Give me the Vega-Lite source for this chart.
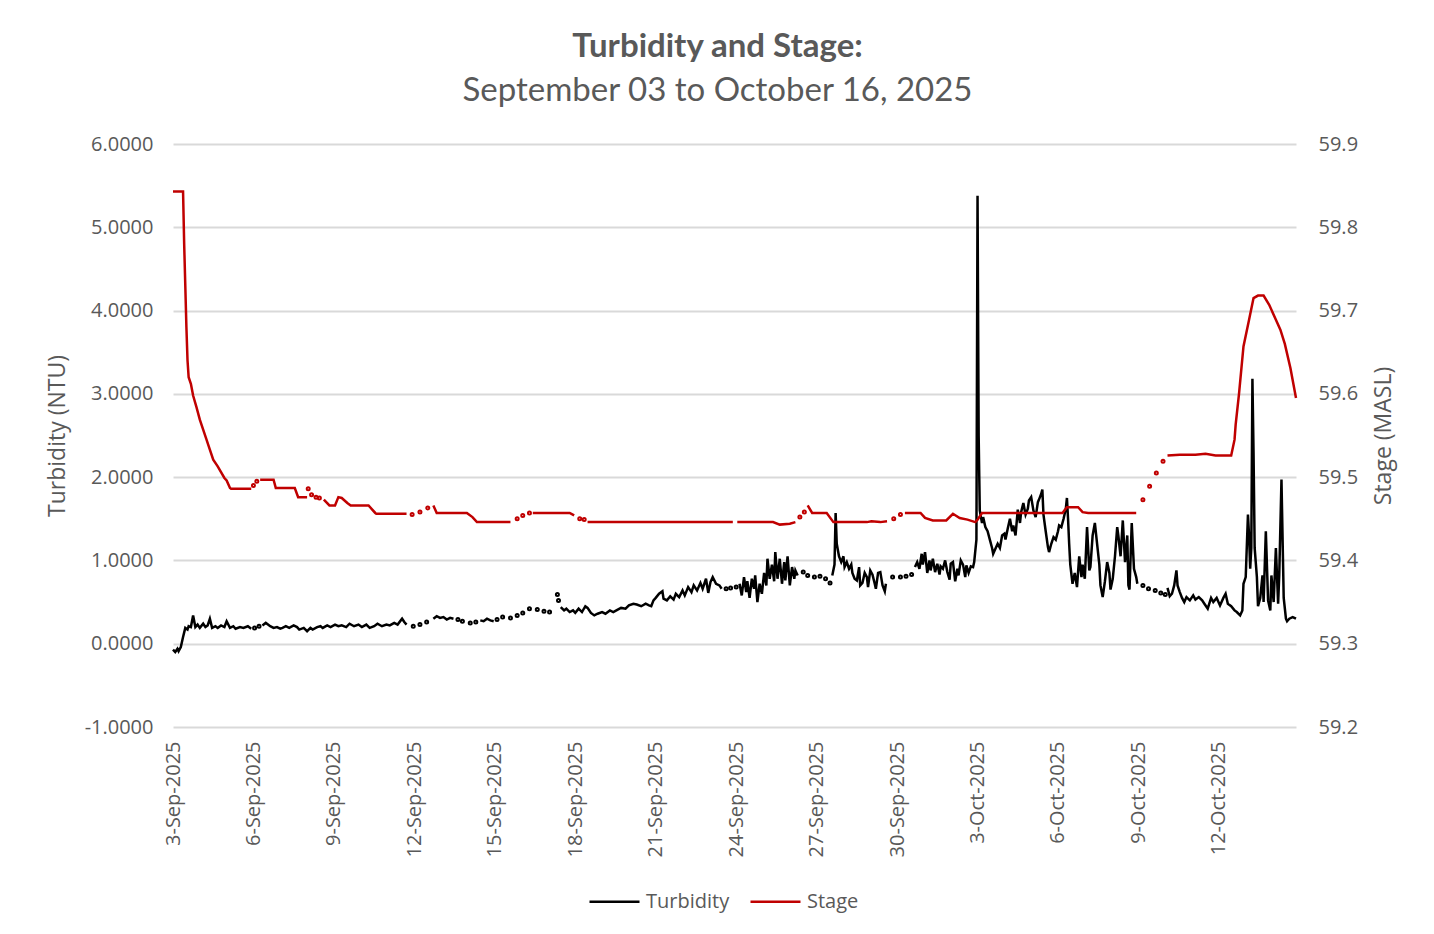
{
"$schema":"https://vega.github.io/schema/vega-lite/v6.json",
"width":1123,"height":583,
"autosize":{"type":"none"},
"padding":{"left":173,"top":144,"right":138,"bottom":207},
"background":"white",
"config":{"view":{"stroke":null},"font":"Open Sans"},
"title":{"text":"Turbidity and Stage:","subtitle":"September 03 to October 16, 2025","anchor":"middle","dx":-17,"offset":26,"font":"Lato","fontSize":33,"fontWeight":"bold","color":"#595959","subtitleFont":"Lato","subtitleFontSize":33,"subtitleFontWeight":"normal","subtitleColor":"#595959","subtitlePadding":11},
"datasets":{
"turb":[
{"t":"2025-09-03T00:00","v":-0.07,"g":1},{"t":"2025-09-03T02:00","v":-0.10,"g":1},{"t":"2025-09-03T04:00","v":-0.06,"g":1},{"t":"2025-09-03T05:00","v":-0.09,"g":1},{"t":"2025-09-03T07:00","v":-0.04,"g":1},{"t":"2025-09-03T09:00","v":0.08,"g":1},{"t":"2025-09-03T11:00","v":0.19,"g":1},{"t":"2025-09-03T13:00","v":0.17,"g":1},{"t":"2025-09-03T14:00","v":0.21,"g":1},{"t":"2025-09-03T16:00","v":0.20,"g":1},{"t":"2025-09-03T18:00","v":0.34,"g":1},{"t":"2025-09-03T20:00","v":0.20,"g":1},{"t":"2025-09-03T22:00","v":0.23,"g":1},
{"t":"2025-09-04T00:00","v":0.19,"g":1},{"t":"2025-09-04T03:00","v":0.24,"g":1},{"t":"2025-09-04T05:00","v":0.20,"g":1},{"t":"2025-09-04T07:00","v":0.22,"g":1},{"t":"2025-09-04T09:00","v":0.30,"g":1},{"t":"2025-09-04T11:00","v":0.19,"g":1},{"t":"2025-09-04T14:00","v":0.21,"g":1},{"t":"2025-09-04T16:00","v":0.19,"g":1},{"t":"2025-09-04T19:00","v":0.22,"g":1},{"t":"2025-09-04T22:00","v":0.20,"g":1},
{"t":"2025-09-05T00:00","v":0.27,"g":1},{"t":"2025-09-05T03:00","v":0.19,"g":1},{"t":"2025-09-05T06:00","v":0.21,"g":1},{"t":"2025-09-05T08:00","v":0.18,"g":1},{"t":"2025-09-05T12:00","v":0.20,"g":1},{"t":"2025-09-05T15:00","v":0.19,"g":1},{"t":"2025-09-05T19:00","v":0.21,"g":1},{"t":"2025-09-05T22:00","v":0.18,"g":1},
{"t":"2025-09-06T01:00","v":0.19,"g":0},{"t":"2025-09-06T05:00","v":0.21,"g":0},
{"t":"2025-09-06T08:00","v":0.22,"g":2},{"t":"2025-09-06T11:00","v":0.25,"g":2},{"t":"2025-09-06T13:00","v":0.23,"g":2},{"t":"2025-09-06T15:00","v":0.21,"g":2},{"t":"2025-09-06T18:00","v":0.19,"g":2},{"t":"2025-09-06T21:00","v":0.20,"g":2},
{"t":"2025-09-07T00:00","v":0.18,"g":2},{"t":"2025-09-07T02:00","v":0.19,"g":2},{"t":"2025-09-07T05:00","v":0.21,"g":2},{"t":"2025-09-07T08:00","v":0.19,"g":2},{"t":"2025-09-07T12:00","v":0.22,"g":2},{"t":"2025-09-07T15:00","v":0.20,"g":2},{"t":"2025-09-07T17:00","v":0.17,"g":2},{"t":"2025-09-07T21:00","v":0.19,"g":2},
{"t":"2025-09-08T00:00","v":0.15,"g":2},{"t":"2025-09-08T03:00","v":0.19,"g":2},{"t":"2025-09-08T05:00","v":0.17,"g":2},{"t":"2025-09-08T09:00","v":0.20,"g":2},{"t":"2025-09-08T12:00","v":0.21,"g":2},{"t":"2025-09-08T14:00","v":0.19,"g":2},{"t":"2025-09-08T18:00","v":0.22,"g":2},{"t":"2025-09-08T21:00","v":0.20,"g":2},
{"t":"2025-09-09T01:00","v":0.23,"g":2},{"t":"2025-09-09T04:00","v":0.21,"g":2},{"t":"2025-09-09T07:00","v":0.22,"g":2},{"t":"2025-09-09T11:00","v":0.20,"g":2},{"t":"2025-09-09T14:00","v":0.24,"g":2},{"t":"2025-09-09T18:00","v":0.21,"g":2},{"t":"2025-09-09T22:00","v":0.23,"g":2},
{"t":"2025-09-10T01:00","v":0.20,"g":2},{"t":"2025-09-10T05:00","v":0.23,"g":2},{"t":"2025-09-10T08:00","v":0.19,"g":2},{"t":"2025-09-10T12:00","v":0.21,"g":2},{"t":"2025-09-10T15:00","v":0.24,"g":2},{"t":"2025-09-10T19:00","v":0.21,"g":2},{"t":"2025-09-10T23:00","v":0.23,"g":2},
{"t":"2025-09-11T02:00","v":0.22,"g":2},{"t":"2025-09-11T06:00","v":0.25,"g":2},{"t":"2025-09-11T09:00","v":0.23,"g":2},{"t":"2025-09-11T13:00","v":0.30,"g":2},{"t":"2025-09-11T15:00","v":0.26,"g":2},{"t":"2025-09-11T17:00","v":0.23,"g":2},
{"t":"2025-09-11T23:00","v":0.21,"g":0},{"t":"2025-09-12T05:00","v":0.23,"g":0},{"t":"2025-09-12T11:00","v":0.26,"g":0},
{"t":"2025-09-12T17:00","v":0.30,"g":3},{"t":"2025-09-12T20:00","v":0.33,"g":3},{"t":"2025-09-12T23:00","v":0.31,"g":3},{"t":"2025-09-13T02:00","v":0.32,"g":3},{"t":"2025-09-13T05:00","v":0.29,"g":3},{"t":"2025-09-13T08:00","v":0.31,"g":3},{"t":"2025-09-13T11:00","v":0.30,"g":3},
{"t":"2025-09-13T15:00","v":0.29,"g":0},{"t":"2025-09-13T19:00","v":0.27,"g":0},{"t":"2025-09-14T02:00","v":0.25,"g":0},{"t":"2025-09-14T07:00","v":0.26,"g":0},
{"t":"2025-09-14T11:00","v":0.28,"g":4},{"t":"2025-09-14T14:00","v":0.27,"g":4},{"t":"2025-09-14T17:00","v":0.30,"g":4},{"t":"2025-09-14T20:00","v":0.28,"g":4},{"t":"2025-09-14T23:00","v":0.27,"g":4},
{"t":"2025-09-15T02:00","v":0.29,"g":0},{"t":"2025-09-15T07:00","v":0.32,"g":0},{"t":"2025-09-15T14:00","v":0.31,"g":0},{"t":"2025-09-15T20:00","v":0.34,"g":0},{"t":"2025-09-16T01:00","v":0.37,"g":0},{"t":"2025-09-16T07:00","v":0.42,"g":0},{"t":"2025-09-16T14:00","v":0.41,"g":0},{"t":"2025-09-16T20:00","v":0.39,"g":0},{"t":"2025-09-17T01:00","v":0.38,"g":0},{"t":"2025-09-17T08:00","v":0.59,"g":0},{"t":"2025-09-17T09:00","v":0.52,"g":0},
{"t":"2025-09-17T11:00","v":0.44,"g":5},{"t":"2025-09-17T14:00","v":0.40,"g":5},{"t":"2025-09-17T16:00","v":0.42,"g":5},{"t":"2025-09-17T19:00","v":0.38,"g":5},{"t":"2025-09-17T22:00","v":0.40,"g":5},
{"t":"2025-09-18T00:00","v":0.37,"g":5},{"t":"2025-09-18T03:00","v":0.42,"g":5},{"t":"2025-09-18T06:00","v":0.38,"g":5},{"t":"2025-09-18T09:00","v":0.45,"g":5},{"t":"2025-09-18T11:00","v":0.43,"g":5},{"t":"2025-09-18T14:00","v":0.37,"g":5},{"t":"2025-09-18T17:00","v":0.34,"g":5},{"t":"2025-09-18T20:00","v":0.36,"g":5},
{"t":"2025-09-19T00:00","v":0.38,"g":5},{"t":"2025-09-19T03:00","v":0.36,"g":5},{"t":"2025-09-19T07:00","v":0.40,"g":5},{"t":"2025-09-19T10:00","v":0.38,"g":5},{"t":"2025-09-19T14:00","v":0.41,"g":5},{"t":"2025-09-19T17:00","v":0.43,"g":5},{"t":"2025-09-19T21:00","v":0.42,"g":5},
{"t":"2025-09-20T00:00","v":0.46,"g":5},{"t":"2025-09-20T04:00","v":0.48,"g":5},{"t":"2025-09-20T07:00","v":0.47,"g":5},{"t":"2025-09-20T11:00","v":0.45,"g":5},{"t":"2025-09-20T15:00","v":0.48,"g":5},{"t":"2025-09-20T18:00","v":0.46,"g":5},{"t":"2025-09-20T20:00","v":0.45,"g":5},{"t":"2025-09-20T22:00","v":0.52,"g":5},
{"t":"2025-09-21T00:00","v":0.55,"g":5},{"t":"2025-09-21T03:00","v":0.60,"g":5},{"t":"2025-09-21T06:00","v":0.63,"g":5},{"t":"2025-09-21T07:00","v":0.54,"g":5},{"t":"2025-09-21T10:00","v":0.52,"g":5},{"t":"2025-09-21T13:00","v":0.57,"g":5},{"t":"2025-09-21T16:00","v":0.53,"g":5},{"t":"2025-09-21T18:00","v":0.60,"g":5},{"t":"2025-09-21T21:00","v":0.56,"g":5},
{"t":"2025-09-22T00:00","v":0.64,"g":5},{"t":"2025-09-22T02:00","v":0.58,"g":5},{"t":"2025-09-22T05:00","v":0.68,"g":5},{"t":"2025-09-22T08:00","v":0.62,"g":5},{"t":"2025-09-22T10:00","v":0.70,"g":5},{"t":"2025-09-22T13:00","v":0.64,"g":5},{"t":"2025-09-22T16:00","v":0.73,"g":5},{"t":"2025-09-22T18:00","v":0.66,"g":5},{"t":"2025-09-22T21:00","v":0.78,"g":5},{"t":"2025-09-22T23:00","v":0.61,"g":5},
{"t":"2025-09-23T01:00","v":0.74,"g":5},{"t":"2025-09-23T03:00","v":0.80,"g":5},{"t":"2025-09-23T06:00","v":0.72,"g":5},{"t":"2025-09-23T09:00","v":0.70,"g":5},{"t":"2025-09-23T11:00","v":0.66,"g":5},
{"t":"2025-09-23T15:00","v":0.66,"g":0},{"t":"2025-09-23T19:00","v":0.67,"g":0},{"t":"2025-09-24T00:00","v":0.68,"g":0},
{"t":"2025-09-24T03:00","v":0.72,"g":6},{"t":"2025-09-24T05:00","v":0.58,"g":6},{"t":"2025-09-24T07:00","v":0.80,"g":6},{"t":"2025-09-24T09:00","v":0.62,"g":6},{"t":"2025-09-24T10:00","v":0.75,"g":6},{"t":"2025-09-24T12:00","v":0.55,"g":6},{"t":"2025-09-24T14:00","v":0.78,"g":6},{"t":"2025-09-24T16:00","v":0.66,"g":6},{"t":"2025-09-24T17:00","v":0.82,"g":6},{"t":"2025-09-24T19:00","v":0.50,"g":6},{"t":"2025-09-24T21:00","v":0.72,"g":6},{"t":"2025-09-24T23:00","v":0.60,"g":6},
{"t":"2025-09-25T01:00","v":0.85,"g":6},{"t":"2025-09-25T03:00","v":0.70,"g":6},{"t":"2025-09-25T04:00","v":1.02,"g":6},{"t":"2025-09-25T06:00","v":0.78,"g":6},{"t":"2025-09-25T08:00","v":0.95,"g":6},{"t":"2025-09-25T10:00","v":0.75,"g":6},{"t":"2025-09-25T11:00","v":1.10,"g":6},{"t":"2025-09-25T13:00","v":0.78,"g":6},{"t":"2025-09-25T15:00","v":1.02,"g":6},{"t":"2025-09-25T17:00","v":0.72,"g":6},{"t":"2025-09-25T19:00","v":0.98,"g":6},{"t":"2025-09-25T20:00","v":0.76,"g":6},{"t":"2025-09-25T22:00","v":1.05,"g":6},
{"t":"2025-09-26T00:00","v":0.70,"g":6},{"t":"2025-09-26T02:00","v":0.92,"g":6},{"t":"2025-09-26T04:00","v":0.78,"g":6},{"t":"2025-09-26T05:00","v":0.88,"g":6},{"t":"2025-09-26T07:00","v":0.82,"g":6},
{"t":"2025-09-26T12:00","v":0.86,"g":0},{"t":"2025-09-26T16:00","v":0.82,"g":0},{"t":"2025-09-26T22:00","v":0.80,"g":0},{"t":"2025-09-27T03:00","v":0.81,"g":0},{"t":"2025-09-27T08:00","v":0.78,"g":0},{"t":"2025-09-27T12:00","v":0.73,"g":0},
{"t":"2025-09-27T14:00","v":0.82,"g":7},{"t":"2025-09-27T16:00","v":0.95,"g":7},{"t":"2025-09-27T17:00","v":1.57,"g":7},{"t":"2025-09-27T18:00","v":1.20,"g":7},{"t":"2025-09-27T20:00","v":1.05,"g":7},{"t":"2025-09-27T22:00","v":0.98,"g":7},
{"t":"2025-09-28T00:00","v":1.05,"g":7},{"t":"2025-09-28T01:00","v":0.92,"g":7},{"t":"2025-09-28T03:00","v":0.98,"g":7},{"t":"2025-09-28T05:00","v":0.90,"g":7},{"t":"2025-09-28T07:00","v":0.95,"g":7},{"t":"2025-09-28T08:00","v":0.85,"g":7},{"t":"2025-09-28T10:00","v":0.78,"g":7},{"t":"2025-09-28T12:00","v":0.76,"g":7},{"t":"2025-09-28T14:00","v":0.92,"g":7},{"t":"2025-09-28T15:00","v":0.70,"g":7},{"t":"2025-09-28T17:00","v":0.73,"g":7},{"t":"2025-09-28T19:00","v":0.85,"g":7},{"t":"2025-09-28T21:00","v":0.80,"g":7},{"t":"2025-09-28T22:00","v":0.68,"g":7},
{"t":"2025-09-29T00:00","v":0.88,"g":7},{"t":"2025-09-29T02:00","v":0.83,"g":7},{"t":"2025-09-29T04:00","v":0.72,"g":7},{"t":"2025-09-29T05:00","v":0.66,"g":7},{"t":"2025-09-29T07:00","v":0.85,"g":7},{"t":"2025-09-29T09:00","v":0.86,"g":7},{"t":"2025-09-29T11:00","v":0.70,"g":7},{"t":"2025-09-29T13:00","v":0.63,"g":7},{"t":"2025-09-29T14:00","v":0.72,"g":7},
{"t":"2025-09-29T20:00","v":0.80,"g":0},{"t":"2025-09-30T03:00","v":0.80,"g":0},{"t":"2025-09-30T08:00","v":0.81,"g":0},{"t":"2025-09-30T13:00","v":0.83,"g":0},
{"t":"2025-09-30T16:00","v":0.92,"g":8},{"t":"2025-09-30T18:00","v":0.98,"g":8},{"t":"2025-09-30T20:00","v":0.90,"g":8},{"t":"2025-09-30T22:00","v":1.08,"g":8},{"t":"2025-09-30T23:00","v":0.95,"g":8},
{"t":"2025-10-01T01:00","v":1.10,"g":8},{"t":"2025-10-01T03:00","v":0.85,"g":8},{"t":"2025-10-01T05:00","v":1.00,"g":8},{"t":"2025-10-01T06:00","v":0.88,"g":8},{"t":"2025-10-01T08:00","v":1.02,"g":8},{"t":"2025-10-01T10:00","v":0.86,"g":8},{"t":"2025-10-01T12:00","v":0.96,"g":8},{"t":"2025-10-01T14:00","v":0.83,"g":8},{"t":"2025-10-01T15:00","v":0.93,"g":8},{"t":"2025-10-01T17:00","v":0.90,"g":8},{"t":"2025-10-01T19:00","v":1.00,"g":8},{"t":"2025-10-01T21:00","v":0.86,"g":8},{"t":"2025-10-01T23:00","v":0.77,"g":8},
{"t":"2025-10-02T00:00","v":0.96,"g":8},{"t":"2025-10-02T02:00","v":0.98,"g":8},{"t":"2025-10-02T04:00","v":0.75,"g":8},{"t":"2025-10-02T06:00","v":0.90,"g":8},{"t":"2025-10-02T07:00","v":0.82,"g":8},{"t":"2025-10-02T09:00","v":1.00,"g":8},{"t":"2025-10-02T11:00","v":0.95,"g":8},{"t":"2025-10-02T13:00","v":0.80,"g":8},{"t":"2025-10-02T14:00","v":0.94,"g":8},{"t":"2025-10-02T16:00","v":0.85,"g":8},{"t":"2025-10-02T18:00","v":0.93,"g":8},{"t":"2025-10-02T20:00","v":0.92,"g":8},{"t":"2025-10-02T21:00","v":0.98,"g":8},{"t":"2025-10-02T23:00","v":1.25,"g":8},
{"t":"2025-10-03T00:00","v":5.38,"g":8},{"t":"2025-10-03T01:00","v":2.50,"g":8},{"t":"2025-10-03T02:00","v":1.60,"g":8},{"t":"2025-10-03T04:00","v":1.45,"g":8},{"t":"2025-10-03T05:00","v":1.52,"g":8},{"t":"2025-10-03T07:00","v":1.40,"g":8},{"t":"2025-10-03T09:00","v":1.35,"g":8},{"t":"2025-10-03T11:00","v":1.25,"g":8},{"t":"2025-10-03T13:00","v":1.15,"g":8},{"t":"2025-10-03T14:00","v":1.08,"g":8},{"t":"2025-10-03T16:00","v":1.14,"g":8},{"t":"2025-10-03T18:00","v":1.20,"g":8},{"t":"2025-10-03T20:00","v":1.15,"g":8},{"t":"2025-10-03T22:00","v":1.30,"g":8},
{"t":"2025-10-04T00:00","v":1.32,"g":8},{"t":"2025-10-04T01:00","v":1.25,"g":8},{"t":"2025-10-04T03:00","v":1.38,"g":8},{"t":"2025-10-04T05:00","v":1.50,"g":8},{"t":"2025-10-04T07:00","v":1.35,"g":8},{"t":"2025-10-04T08:00","v":1.42,"g":8},{"t":"2025-10-04T10:00","v":1.30,"g":8},{"t":"2025-10-04T12:00","v":1.61,"g":8},{"t":"2025-10-04T14:00","v":1.45,"g":8},{"t":"2025-10-04T15:00","v":1.58,"g":8},{"t":"2025-10-04T17:00","v":1.69,"g":8},{"t":"2025-10-04T19:00","v":1.55,"g":8},{"t":"2025-10-04T21:00","v":1.62,"g":8},{"t":"2025-10-04T22:00","v":1.72,"g":8},
{"t":"2025-10-05T00:00","v":1.76,"g":8},{"t":"2025-10-05T02:00","v":1.60,"g":8},{"t":"2025-10-05T04:00","v":1.52,"g":8},{"t":"2025-10-05T06:00","v":1.70,"g":8},{"t":"2025-10-05T07:00","v":1.73,"g":8},{"t":"2025-10-05T09:00","v":1.80,"g":8},{"t":"2025-10-05T10:00","v":1.85,"g":8},{"t":"2025-10-05T11:00","v":1.55,"g":8},{"t":"2025-10-05T13:00","v":1.35,"g":8},{"t":"2025-10-05T15:00","v":1.16,"g":8},{"t":"2025-10-05T16:00","v":1.10,"g":8},{"t":"2025-10-05T18:00","v":1.20,"g":8},{"t":"2025-10-05T20:00","v":1.28,"g":8},{"t":"2025-10-05T22:00","v":1.25,"g":8},
{"t":"2025-10-06T00:00","v":1.35,"g":8},{"t":"2025-10-06T01:00","v":1.42,"g":8},{"t":"2025-10-06T03:00","v":1.40,"g":8},{"t":"2025-10-06T05:00","v":1.50,"g":8},{"t":"2025-10-06T07:00","v":1.62,"g":8},{"t":"2025-10-06T08:00","v":1.75,"g":8},{"t":"2025-10-06T09:00","v":1.50,"g":8},{"t":"2025-10-06T10:00","v":1.20,"g":8},{"t":"2025-10-06T11:00","v":0.95,"g":8},{"t":"2025-10-06T13:00","v":0.72,"g":8},{"t":"2025-10-06T15:00","v":0.85,"g":8},{"t":"2025-10-06T17:00","v":0.68,"g":8},{"t":"2025-10-06T19:00","v":1.05,"g":8},{"t":"2025-10-06T21:00","v":0.80,"g":8},{"t":"2025-10-06T22:00","v":0.95,"g":8},
{"t":"2025-10-07T00:00","v":0.78,"g":8},{"t":"2025-10-07T02:00","v":1.40,"g":8},{"t":"2025-10-07T04:00","v":0.88,"g":8},{"t":"2025-10-07T05:00","v":0.92,"g":8},{"t":"2025-10-07T07:00","v":1.30,"g":8},{"t":"2025-10-07T09:00","v":1.45,"g":8},{"t":"2025-10-07T11:00","v":1.20,"g":8},{"t":"2025-10-07T13:00","v":0.95,"g":8},{"t":"2025-10-07T14:00","v":0.70,"g":8},{"t":"2025-10-07T16:00","v":0.56,"g":8},{"t":"2025-10-07T18:00","v":0.75,"g":8},{"t":"2025-10-07T20:00","v":0.98,"g":8},{"t":"2025-10-07T22:00","v":0.85,"g":8},{"t":"2025-10-07T23:00","v":0.65,"g":8},
{"t":"2025-10-08T01:00","v":0.78,"g":8},{"t":"2025-10-08T03:00","v":1.05,"g":8},{"t":"2025-10-08T05:00","v":1.40,"g":8},{"t":"2025-10-08T06:00","v":1.30,"g":8},{"t":"2025-10-08T08:00","v":1.05,"g":8},{"t":"2025-10-08T10:00","v":1.48,"g":8},{"t":"2025-10-08T12:00","v":0.98,"g":8},{"t":"2025-10-08T14:00","v":1.30,"g":8},{"t":"2025-10-08T15:00","v":0.70,"g":8},{"t":"2025-10-08T16:00","v":0.65,"g":8},{"t":"2025-10-08T18:00","v":1.45,"g":8},{"t":"2025-10-08T20:00","v":0.90,"g":8},{"t":"2025-10-08T22:00","v":0.80,"g":8},{"t":"2025-10-08T23:00","v":0.72,"g":8},
{"t":"2025-10-09T04:00","v":0.70,"g":0},{"t":"2025-10-09T09:00","v":0.66,"g":0},{"t":"2025-10-09T15:00","v":0.64,"g":0},{"t":"2025-10-09T20:00","v":0.61,"g":0},{"t":"2025-10-10T00:00","v":0.59,"g":0},
{"t":"2025-10-10T02:00","v":0.67,"g":9},{"t":"2025-10-10T04:00","v":0.57,"g":9},{"t":"2025-10-10T06:00","v":0.60,"g":9},{"t":"2025-10-10T08:00","v":0.70,"g":9},{"t":"2025-10-10T10:00","v":0.88,"g":9},{"t":"2025-10-10T11:00","v":0.70,"g":9},{"t":"2025-10-10T13:00","v":0.62,"g":9},{"t":"2025-10-10T15:00","v":0.55,"g":9},{"t":"2025-10-10T17:00","v":0.50,"g":9},{"t":"2025-10-10T19:00","v":0.56,"g":9},{"t":"2025-10-10T22:00","v":0.52,"g":9},
{"t":"2025-10-11T01:00","v":0.58,"g":9},{"t":"2025-10-11T03:00","v":0.53,"g":9},{"t":"2025-10-11T06:00","v":0.56,"g":9},{"t":"2025-10-11T09:00","v":0.52,"g":9},{"t":"2025-10-11T11:00","v":0.48,"g":9},{"t":"2025-10-11T14:00","v":0.42,"g":9},{"t":"2025-10-11T17:00","v":0.55,"g":9},{"t":"2025-10-11T19:00","v":0.50,"g":9},{"t":"2025-10-11T22:00","v":0.55,"g":9},
{"t":"2025-10-12T01:00","v":0.46,"g":9},{"t":"2025-10-12T04:00","v":0.55,"g":9},{"t":"2025-10-12T06:00","v":0.60,"g":9},{"t":"2025-10-12T08:00","v":0.48,"g":9},{"t":"2025-10-12T11:00","v":0.45,"g":9},{"t":"2025-10-12T14:00","v":0.40,"g":9},{"t":"2025-10-12T16:00","v":0.38,"g":9},{"t":"2025-10-12T19:00","v":0.34,"g":9},{"t":"2025-10-12T21:00","v":0.40,"g":9},{"t":"2025-10-12T22:00","v":0.72,"g":9},
{"t":"2025-10-13T00:00","v":0.80,"g":9},{"t":"2025-10-13T02:00","v":1.55,"g":9},{"t":"2025-10-13T03:00","v":1.30,"g":9},{"t":"2025-10-13T04:00","v":0.90,"g":9},{"t":"2025-10-13T05:00","v":1.15,"g":9},{"t":"2025-10-13T06:00","v":3.18,"g":9},{"t":"2025-10-13T07:00","v":2.30,"g":9},{"t":"2025-10-13T08:00","v":1.15,"g":9},{"t":"2025-10-13T10:00","v":0.80,"g":9},{"t":"2025-10-13T11:00","v":0.45,"g":9},{"t":"2025-10-13T13:00","v":0.55,"g":9},{"t":"2025-10-13T15:00","v":0.82,"g":9},{"t":"2025-10-13T16:00","v":0.50,"g":9},{"t":"2025-10-13T18:00","v":1.35,"g":9},{"t":"2025-10-13T20:00","v":0.52,"g":9},{"t":"2025-10-13T22:00","v":0.40,"g":9},{"t":"2025-10-13T23:00","v":0.82,"g":9},
{"t":"2025-10-14T01:00","v":0.50,"g":9},{"t":"2025-10-14T03:00","v":1.15,"g":9},{"t":"2025-10-14T05:00","v":0.48,"g":9},{"t":"2025-10-14T06:00","v":0.82,"g":9},{"t":"2025-10-14T08:00","v":1.97,"g":9},{"t":"2025-10-14T10:00","v":0.55,"g":9},{"t":"2025-10-14T12:00","v":0.30,"g":9},{"t":"2025-10-14T13:00","v":0.27,"g":9},{"t":"2025-10-14T15:00","v":0.30,"g":9},{"t":"2025-10-14T18:00","v":0.32,"g":9},{"t":"2025-10-14T21:00","v":0.30,"g":9}
],
"stage":[
{"t":"2025-09-03T00:00","v":59.843,"g":1},{"t":"2025-09-03T09:00","v":59.843,"g":1},{"t":"2025-09-03T10:00","v":59.78,"g":1},{"t":"2025-09-03T11:00","v":59.73,"g":1},{"t":"2025-09-03T12:00","v":59.68,"g":1},{"t":"2025-09-03T13:00","v":59.64,"g":1},{"t":"2025-09-03T14:00","v":59.62,"g":1},{"t":"2025-09-03T16:00","v":59.612,"g":1},{"t":"2025-09-03T18:00","v":59.598,"g":1},{"t":"2025-09-03T21:00","v":59.584,"g":1},
{"t":"2025-09-04T00:00","v":59.569,"g":1},{"t":"2025-09-04T06:00","v":59.545,"g":1},{"t":"2025-09-04T08:00","v":59.537,"g":1},{"t":"2025-09-04T12:00","v":59.521,"g":1},{"t":"2025-09-04T16:00","v":59.513,"g":1},{"t":"2025-09-04T22:00","v":59.499,"g":1},
{"t":"2025-09-05T00:00","v":59.496,"g":1},{"t":"2025-09-05T03:00","v":59.487,"g":1},{"t":"2025-09-05T04:00","v":59.486,"g":1},{"t":"2025-09-05T22:00","v":59.486,"g":1},
{"t":"2025-09-06T00:00","v":59.49,"g":0},{"t":"2025-09-06T03:00","v":59.495,"g":0},
{"t":"2025-09-06T06:00","v":59.497,"g":2},{"t":"2025-09-06T18:00","v":59.497,"g":2},{"t":"2025-09-06T20:00","v":59.487,"g":2},{"t":"2025-09-07T13:00","v":59.487,"g":2},{"t":"2025-09-07T16:00","v":59.476,"g":2},{"t":"2025-09-08T00:00","v":59.476,"g":2},
{"t":"2025-09-08T01:00","v":59.486,"g":0},{"t":"2025-09-08T04:00","v":59.479,"g":0},{"t":"2025-09-08T08:00","v":59.476,"g":0},{"t":"2025-09-08T11:00","v":59.475,"g":0},
{"t":"2025-09-08T15:00","v":59.473,"g":3},{"t":"2025-09-08T20:00","v":59.466,"g":3},{"t":"2025-09-09T01:00","v":59.466,"g":3},{"t":"2025-09-09T04:00","v":59.476,"g":3},{"t":"2025-09-09T07:00","v":59.475,"g":3},{"t":"2025-09-09T12:00","v":59.469,"g":3},{"t":"2025-09-09T15:00","v":59.466,"g":3},{"t":"2025-09-10T07:00","v":59.466,"g":3},{"t":"2025-09-10T13:00","v":59.457,"g":3},{"t":"2025-09-10T14:00","v":59.456,"g":3},{"t":"2025-09-11T17:00","v":59.456,"g":3},
{"t":"2025-09-11T22:00","v":59.455,"g":0},{"t":"2025-09-12T05:00","v":59.458,"g":0},{"t":"2025-09-12T12:00","v":59.463,"g":0},
{"t":"2025-09-12T17:00","v":59.466,"g":4},{"t":"2025-09-12T20:00","v":59.457,"g":4},{"t":"2025-09-13T23:00","v":59.457,"g":4},{"t":"2025-09-14T04:00","v":59.452,"g":4},{"t":"2025-09-14T08:00","v":59.446,"g":4},{"t":"2025-09-15T14:00","v":59.446,"g":4},
{"t":"2025-09-15T20:00","v":59.45,"g":0},{"t":"2025-09-16T01:00","v":59.454,"g":0},{"t":"2025-09-16T07:00","v":59.457,"g":0},
{"t":"2025-09-16T10:00","v":59.457,"g":5},{"t":"2025-09-17T19:00","v":59.457,"g":5},{"t":"2025-09-17T23:00","v":59.454,"g":5},
{"t":"2025-09-18T04:00","v":59.45,"g":0},{"t":"2025-09-18T08:00","v":59.449,"g":0},
{"t":"2025-09-18T11:00","v":59.446,"g":6},{"t":"2025-09-23T21:00","v":59.446,"g":6},
{"t":"2025-09-24T01:00","v":59.446,"g":7},{"t":"2025-09-25T09:00","v":59.446,"g":7},{"t":"2025-09-25T15:00","v":59.443,"g":7},{"t":"2025-09-26T00:00","v":59.444,"g":7},{"t":"2025-09-26T05:00","v":59.446,"g":7},
{"t":"2025-09-26T09:00","v":59.452,"g":0},{"t":"2025-09-26T13:00","v":59.458,"g":0},
{"t":"2025-09-26T16:00","v":59.466,"g":8},{"t":"2025-09-26T20:00","v":59.457,"g":8},{"t":"2025-09-27T09:00","v":59.457,"g":8},{"t":"2025-09-27T15:00","v":59.446,"g":8},{"t":"2025-09-28T21:00","v":59.446,"g":8},{"t":"2025-09-29T01:00","v":59.447,"g":8},{"t":"2025-09-29T09:00","v":59.446,"g":8},{"t":"2025-09-29T15:00","v":59.447,"g":8},
{"t":"2025-09-29T21:00","v":59.45,"g":0},{"t":"2025-09-30T03:00","v":59.455,"g":0},
{"t":"2025-09-30T07:00","v":59.457,"g":9},{"t":"2025-09-30T21:00","v":59.457,"g":9},{"t":"2025-10-01T01:00","v":59.451,"g":9},{"t":"2025-10-01T08:00","v":59.448,"g":9},{"t":"2025-10-01T20:00","v":59.448,"g":9},{"t":"2025-10-02T02:00","v":59.456,"g":9},{"t":"2025-10-02T08:00","v":59.451,"g":9},{"t":"2025-10-02T15:00","v":59.449,"g":9},{"t":"2025-10-02T22:00","v":59.446,"g":9},{"t":"2025-10-03T00:00","v":59.449,"g":9},{"t":"2025-10-03T04:00","v":59.457,"g":9},{"t":"2025-10-06T04:00","v":59.457,"g":9},{"t":"2025-10-06T08:00","v":59.464,"g":9},{"t":"2025-10-06T18:00","v":59.464,"g":9},{"t":"2025-10-06T22:00","v":59.458,"g":9},{"t":"2025-10-07T03:00","v":59.457,"g":9},{"t":"2025-10-08T22:00","v":59.457,"g":9},
{"t":"2025-10-09T04:00","v":59.473,"g":0},{"t":"2025-10-09T10:00","v":59.489,"g":0},{"t":"2025-10-09T16:00","v":59.505,"g":0},{"t":"2025-10-09T22:00","v":59.519,"g":0},
{"t":"2025-10-10T02:00","v":59.526,"g":10},{"t":"2025-10-10T13:00","v":59.527,"g":10},{"t":"2025-10-11T03:00","v":59.527,"g":10},{"t":"2025-10-11T12:00","v":59.528,"g":10},{"t":"2025-10-11T21:00","v":59.526,"g":10},{"t":"2025-10-12T11:00","v":59.526,"g":10},{"t":"2025-10-12T14:00","v":59.545,"g":10},{"t":"2025-10-12T15:00","v":59.563,"g":10},{"t":"2025-10-12T18:00","v":59.6,"g":10},{"t":"2025-10-12T22:00","v":59.657,"g":10},{"t":"2025-10-13T03:00","v":59.689,"g":10},{"t":"2025-10-13T07:00","v":59.715,"g":10},{"t":"2025-10-13T11:00","v":59.718,"g":10},{"t":"2025-10-13T16:00","v":59.718,"g":10},{"t":"2025-10-13T21:00","v":59.707,"g":10},{"t":"2025-10-14T03:00","v":59.689,"g":10},{"t":"2025-10-14T07:00","v":59.677,"g":10},{"t":"2025-10-14T11:00","v":59.66,"g":10},{"t":"2025-10-14T16:00","v":59.631,"g":10},{"t":"2025-10-14T21:00","v":59.595,"g":10}
]
},
"encoding":{
"x":{"field":"t","type":"temporal","scale":{"domain":[{"year":2025,"month":9,"date":3},{"year":2025,"month":10,"date":14,"hours":21}]},
"axis":{"title":null,"values":[{"year":2025,"month":9,"date":3},{"year":2025,"month":9,"date":6},{"year":2025,"month":9,"date":9},{"year":2025,"month":9,"date":12},{"year":2025,"month":9,"date":15},{"year":2025,"month":9,"date":18},{"year":2025,"month":9,"date":21},{"year":2025,"month":9,"date":24},{"year":2025,"month":9,"date":27},{"year":2025,"month":9,"date":30},{"year":2025,"month":10,"date":3},{"year":2025,"month":10,"date":6},{"year":2025,"month":10,"date":9},{"year":2025,"month":10,"date":12}],
"format":"%-d-%b-%Y","labelAngle":-90,"labelFont":"Open Sans","labelFontSize":20,"labelColor":"#595959","labelPadding":14,"labelFlush":false,"labelOverlap":false,"labelBound":false,"domain":false,"ticks":false,"grid":false}}
},
"layer":[
{"data":{"name":"turb"},
"encoding":{"y":{"field":"v","type":"quantitative","scale":{"domain":[-1,6],"nice":false,"zero":false},
"axis":{"values":[-1,0,1,2,3,4,5,6],"format":".4f","labelExpr":"replace(datum.label, '\u2212', '-')","title":"Turbidity (NTU)","titleFont":"Open Sans","titleFontSize":23,"titleFontWeight":"normal","titleColor":"#595959","titlePadding":15,"labelFont":"Open Sans","labelFontSize":20,"labelColor":"#595959","labelPadding":20,"domain":false,"ticks":false,"grid":true,"gridColor":"#d9d9d9","gridWidth":2}}},
"layer":[
{"transform":[{"filter":"datum.g > 0"}],"mark":{"type":"line","strokeWidth":2.5},
"encoding":{"detail":{"field":"g","type":"nominal"},"color":{"datum":"Turbidity","type":"nominal","scale":{"domain":["Turbidity","Stage"],"range":["#000000","#C00000"]},
"legend":{"title":null,"orient":"none","legendX":415,"legendY":731,"direction":"horizontal","symbolType":"stroke","symbolSize":2500,"symbolStrokeWidth":2.5,"labelFont":"Open Sans","labelFontSize":20,"labelColor":"#595959","labelOffset":5,"columnPadding":15}}}},
{"transform":[{"filter":"datum.g == 0"}],"mark":{"type":"point","filled":false,"size":4,"strokeWidth":3,"opacity":1},
"encoding":{"color":{"datum":"Turbidity","type":"nominal"}}}
]},
{"data":{"name":"stage"},
"encoding":{"y":{"field":"v","type":"quantitative","scale":{"domain":[59.2,59.9],"nice":false,"zero":false},
"axis":{"orient":"right","values":[59.2,59.3,59.4,59.5,59.6,59.7,59.8,59.9],"format":".1f","title":"Stage (MASL)","titleAngle":-90,"titleBaseline":"top","titleFont":"Open Sans","titleFontSize":23,"titleFontWeight":"normal","titleColor":"#595959","titlePadding":15,"labelFont":"Open Sans","labelFontSize":20,"labelColor":"#595959","labelPadding":22,"domain":false,"ticks":false,"grid":false}}},
"layer":[
{"transform":[{"filter":"datum.g > 0"}],"mark":{"type":"line","strokeWidth":2.5},
"encoding":{"detail":{"field":"g","type":"nominal"},"color":{"datum":"Stage","type":"nominal"}}},
{"transform":[{"filter":"datum.g == 0"}],"mark":{"type":"point","filled":false,"size":4,"strokeWidth":3,"opacity":1},
"encoding":{"color":{"datum":"Stage","type":"nominal"}}}
]}
],
"resolve":{"scale":{"y":"independent"}}
}
